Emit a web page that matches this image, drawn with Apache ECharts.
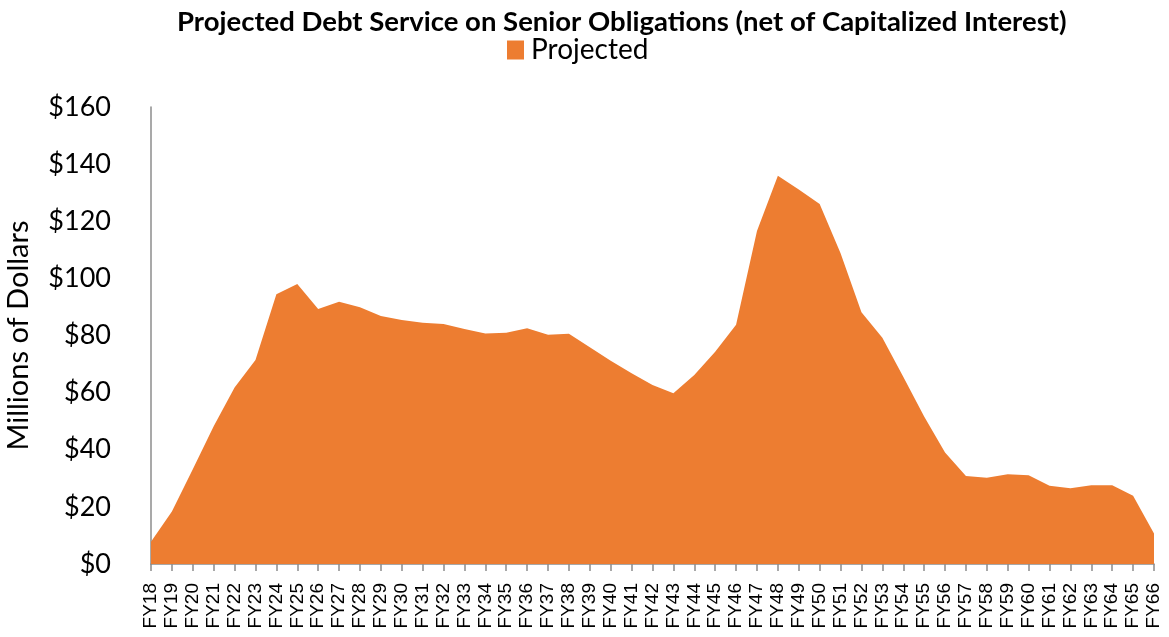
<!DOCTYPE html>
<html>
<head>
<meta charset="utf-8">
<script src="https://cdn.jsdelivr.net/npm/echarts@6/dist/echarts.min.js"></script>
<style>
  html, body { margin: 0; padding: 0; background: #fff; }
  #chart { width: 1169px; height: 637px; }
</style>
</head>
<body>
<div id="chart"></div>
<script>
// Fiscal years FY18 … FY66
const years = [
  'FY18','FY19','FY20','FY21','FY22','FY23','FY24','FY25','FY26','FY27',
  'FY28','FY29','FY30','FY31','FY32','FY33','FY34','FY35','FY36','FY37',
  'FY38','FY39','FY40','FY41','FY42','FY43','FY44','FY45','FY46','FY47',
  'FY48','FY49','FY50','FY51','FY52','FY53','FY54','FY55','FY56','FY57',
  'FY58','FY59','FY60','FY61','FY62','FY63','FY64','FY65','FY66'
];

// Projected debt service, millions of dollars
const projected = [
  7.8, 18.4, 33.2, 48.2, 61.8, 71.4, 94.4, 98.0, 89.3, 91.8,
  89.9, 86.8, 85.4, 84.5, 84.0, 82.3, 80.7, 81.0, 82.5, 80.3,
  80.6, 75.9, 71.2, 66.8, 62.7, 59.8, 66.2, 74.3, 83.8, 116.6,
  135.9, 131.1, 126.0, 108.8, 88.1, 79.2, 65.6, 51.6, 39.0, 30.8,
  30.2, 31.4, 31.1, 27.4, 26.5, 27.6, 27.6, 23.9, 10.7
];

const yTicks = { min: 0, max: 160, interval: 20 };

const orange = '#ED7D31';
const axisGray = '#8C8C8C';

const chart = echarts.init(document.getElementById('chart'), null, { renderer: 'canvas' });

chart.setOption({
  animation: false,
  backgroundColor: '#ffffff',
  title: {
    text: 'Projected Debt Service on Senior Obligations (net of Capitalized Interest)',
    left: 172,
    top: 3,
    textStyle: {
      fontFamily: 'Lato',
      fontWeight: 'bold',
      fontSize: 27.5,
      color: '#000'
    }
  },
  legend: {
    top: 31,
    left: 502,
    icon: 'rect',
    itemWidth: 17,
    itemHeight: 19,
    itemGap: 6,
    textStyle: {
      fontFamily: 'Lato',
      fontSize: 28,
      color: '#000',
      padding: [0, 0, 0, 2]
    },
    data: ['Projected']
  },
  grid: {
    left: 151,
    right: 15,
    top: 107,
    bottom: 73,
    containLabel: false,
    outerBoundsMode: 'none'
  },
  xAxis: {
    type: 'category',
    data: years,
    boundaryGap: false,
    axisLine: { lineStyle: { color: axisGray, width: 1.5 } },
    axisTick: {
      show: true,
      interval: 0,
      length: 7,
      lineStyle: { color: axisGray, width: 1.5 }
    },
    axisLabel: {
      interval: 0,
      rotate: 90,
      margin: 19,
      fontFamily: 'Liberation Sans',
      fontSize: 19,
      color: '#000'
    },
    splitLine: { show: false }
  },
  yAxis: {
    type: 'value',
    min: yTicks.min,
    max: yTicks.max,
    interval: yTicks.interval,
    name: 'Millions of Dollars',
    nameLocation: 'middle',
    nameGap: 118,
    nameTextStyle: {
      fontFamily: 'Lato',
      fontSize: 29,
      color: '#000'
    },
    axisLine: { show: true, lineStyle: { color: axisGray, width: 1.5 } },
    axisTick: { show: false },
    splitLine: { show: false },
    axisLabel: {
      margin: 40,
      fontFamily: 'Lato',
      fontSize: 27,
      color: '#000',
      formatter: v => '$' + v
    }
  },
  series: [{
    name: 'Projected',
    type: 'line',
    data: projected,
    symbol: 'none',
    smooth: false,
    itemStyle: { color: orange },
    lineStyle: { color: orange, width: 0 },
    areaStyle: { color: orange, opacity: 1 }
  }]
});
</script>
</body>
</html>
